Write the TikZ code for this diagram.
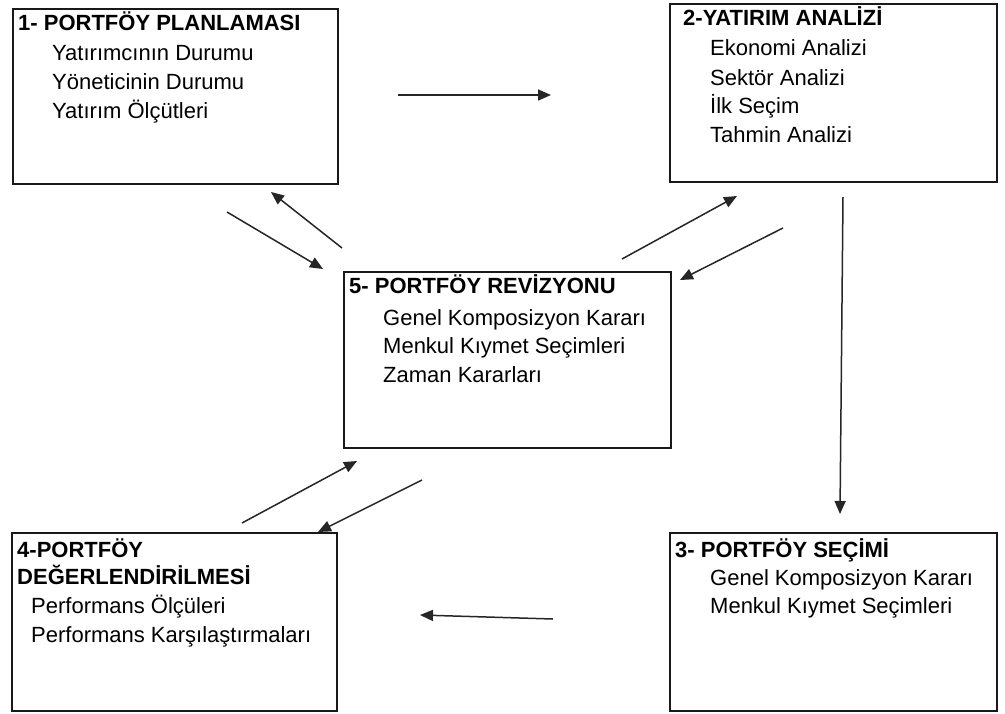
\documentclass[tikz,border=0pt]{standalone}
\usepackage{fontspec}
\setmainfont{Liberation Sans}
\usetikzlibrary{arrows.meta}
\begin{document}
\begin{tikzpicture}[x=1pt,y=-1pt,
  box/.style={draw=black!90, line width=1.5pt, inner sep=0pt},
  ttl/.style={anchor=base west, inner sep=0pt, font=\fontsize{22}{26}\selectfont\bfseries},
  itm/.style={anchor=base west, inner sep=0pt, font=\fontsize{22}{26}\selectfont},
  conn/.style={line width=1.5pt, draw=black!85, -{Triangle[length=13pt,width=11pt]}}]
\useasboundingbox (0,0) rectangle (1005,713);
\fill[white] (0,0) rectangle (1005,713);
% boxes
\node[box, minimum width=325pt, minimum height=175pt] (b1) at (175.5,96.5) {};
\node[box, minimum width=327pt, minimum height=178pt] (b2) at (833.5,93) {};
\node[box, minimum width=327pt, minimum height=176pt] (b5) at (507.5,360) {};
\node[box, minimum width=325pt, minimum height=178pt] (b4) at (174.5,622) {};
\node[box, minimum width=327pt, minimum height=178pt] (b3) at (833.5,622) {};
% box 1
\node[ttl] (t1) at (18,30) {1- PORTFÖY PLANLAMASI};
\node[itm] (t1a) at (52,60) {Yatırımcının Durumu};
\node[itm] (t1b) at (52,89) {Yöneticinin Durumu};
\node[itm] (t1c) at (52,118) {Yatırım Ölçütleri};
% box 2
\node[ttl] (t2) at (683,25) {2-YATIRIM ANALİZİ};
\node[itm] (t2a) at (710,55) {Ekonomi Analizi};
\node[itm] (t2b) at (710,85) {Sektör Analizi};
\node[itm] (t2c) at (710,113) {İlk Seçim};
\node[itm] (t2d) at (710,142) {Tahmin Analizi};
% box 5
\node[ttl] (t5) at (349,293) {5- PORTFÖY REVİZYONU};
\node[itm] (t5a) at (383,325) {Genel Komposizyon Kararı};
\node[itm] (t5b) at (383,353) {Menkul Kıymet Seçimleri};
\node[itm] (t5c) at (383,382) {Zaman Kararları};
% box 4
\node[ttl] (t4) at (17,557) {4-PORTFÖY};
\node[ttl] (t4b) at (17,584) {DEĞERLENDİRİLMESİ};
\node[itm] (t4c) at (31,613) {Performans Ölçüleri};
\node[itm] (t4d) at (31,642) {Performans Karşılaştırmaları};
% box 3
\node[ttl] (t3) at (675,557) {3- PORTFÖY SEÇİMİ};
\node[itm] (t3a) at (710,585) {Genel Komposizyon Kararı};
\node[itm] (t3b) at (710,613) {Menkul Kıymet Seçimleri};
% connector end points
\coordinate (p12s) at (398,95);  \coordinate (p12e) at (551,95);
\coordinate (p23s) at (843,197); \coordinate (p23e) at (840,514);
\coordinate (p34s) at (553,619); \coordinate (p34e) at (420,615);
\coordinate (p15s) at (227,212); \coordinate (p15e) at (323,269);
\coordinate (p51s) at (342,248); \coordinate (p51e) at (271,192);
\coordinate (p52s) at (622,259); \coordinate (p52e) at (737,196);
\coordinate (p25s) at (783,228); \coordinate (p25e) at (680,280);
\coordinate (p45s) at (242,523); \coordinate (p45e) at (357,461);
\coordinate (p54s) at (422,480); \coordinate (p54e) at (318,532);
% connectors
\draw[conn] (p12s) -- (p12e);
\draw[conn] (p23s) -- (p23e);
\draw[conn] (p34s) -- (p34e);
\draw[conn] (p15s) -- (p15e);
\draw[conn] (p51s) -- (p51e);
\draw[conn] (p52s) -- (p52e);
\draw[conn] (p25s) -- (p25e);
\draw[conn] (p45s) -- (p45e);
\draw[conn] (p54s) -- (p54e);
\end{tikzpicture}
\end{document}
